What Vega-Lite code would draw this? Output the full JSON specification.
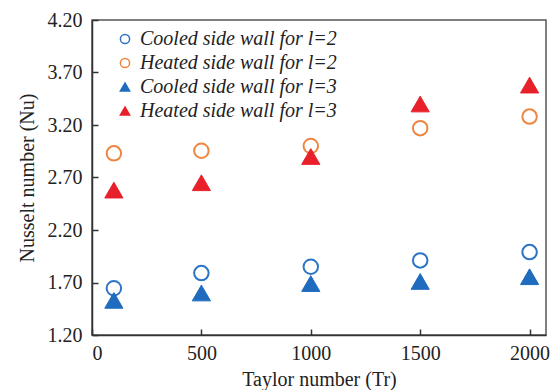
{
  "$schema": "https://vega.github.io/schema/vega-lite/v6.json",
  "autosize": "none",
  "width": 454,
  "height": 315,
  "padding": {"left": 92, "top": 20, "right": 4, "bottom": 55},
  "background": "white",
  "config": {
    "view": {"stroke": "#555555", "strokeWidth": 1.5},
    "font": "Liberation Serif",
    "axis": {
      "domainColor": "#333333",
      "domainWidth": 1.5,
      "tickColor": "#333333",
      "tickWidth": 1.5,
      "tickSize": -6,
      "grid": false,
      "labelFont": "Liberation Serif",
      "labelFontSize": 20,
      "labelColor": "#222222",
      "titleFont": "Liberation Serif",
      "titleFontSize": 20,
      "titleFontWeight": "normal",
      "titleColor": "#222222"
    }
  },
  "data": {
    "values": [
      {"series": "Cooled side wall for l=2", "Tr": 100, "Nu": 1.645},
      {"series": "Cooled side wall for l=2", "Tr": 500, "Nu": 1.79},
      {"series": "Cooled side wall for l=2", "Tr": 1000, "Nu": 1.85},
      {"series": "Cooled side wall for l=2", "Tr": 1500, "Nu": 1.91},
      {"series": "Cooled side wall for l=2", "Tr": 2000, "Nu": 1.99},
      {"series": "Heated side wall for l=2", "Tr": 100, "Nu": 2.93},
      {"series": "Heated side wall for l=2", "Tr": 500, "Nu": 2.955},
      {"series": "Heated side wall for l=2", "Tr": 1000, "Nu": 3.0},
      {"series": "Heated side wall for l=2", "Tr": 1500, "Nu": 3.17},
      {"series": "Heated side wall for l=2", "Tr": 2000, "Nu": 3.28},
      {"series": "Cooled side wall for l=3", "Tr": 100, "Nu": 1.53},
      {"series": "Cooled side wall for l=3", "Tr": 500, "Nu": 1.6},
      {"series": "Cooled side wall for l=3", "Tr": 1000, "Nu": 1.69},
      {"series": "Cooled side wall for l=3", "Tr": 1500, "Nu": 1.71},
      {"series": "Cooled side wall for l=3", "Tr": 2000, "Nu": 1.755},
      {"series": "Heated side wall for l=3", "Tr": 100, "Nu": 2.58},
      {"series": "Heated side wall for l=3", "Tr": 500, "Nu": 2.65},
      {"series": "Heated side wall for l=3", "Tr": 1000, "Nu": 2.9},
      {"series": "Heated side wall for l=3", "Tr": 1500, "Nu": 3.4},
      {"series": "Heated side wall for l=3", "Tr": 2000, "Nu": 3.58}
    ]
  },
  "encoding": {
    "x": {
      "field": "Tr", "type": "quantitative",
      "scale": {"domain": [0, 2075], "nice": false, "zero": false},
      "axis": {"values": [0, 500, 1000, 1500, 2000], "format": "d", "title": "Taylor number (Tr)", "labelPadding": 14, "titlePadding": 6}
    },
    "y": {
      "field": "Nu", "type": "quantitative",
      "scale": {"domain": [1.2, 4.2], "nice": false, "zero": false},
      "axis": {"values": [1.2, 1.7, 2.2, 2.7, 3.2, 3.7, 4.2], "format": ".2f", "title": "Nusselt number (Nu)", "labelPadding": 16, "titlePadding": 10}
    },
    "shape": {
      "field": "series", "type": "nominal",
      "scale": {
        "domain": ["Cooled side wall for l=2", "Heated side wall for l=2", "Cooled side wall for l=3", "Heated side wall for l=3"],
        "range": ["circle", "circle", "triangle-up", "triangle-up"]
      },
      "legend": {
        "orient": "none", "legendX": 23, "legendY": 9, "title": null,
        "labelFont": "Liberation Serif", "labelFontStyle": "italic", "labelFontSize": 20, "labelColor": "#222222", "labelLimit": 400,
        "symbolSize": 85, "symbolStrokeWidth": 1.5, "rowPadding": 4, "padding": 0, "labelOffset": 5
      }
    },
    "stroke": {
      "field": "series", "type": "nominal",
      "scale": {
        "domain": ["Cooled side wall for l=2", "Heated side wall for l=2", "Cooled side wall for l=3", "Heated side wall for l=3"],
        "range": ["#2e74c4", "#ee8540", "#1f6bbd", "#e8202a"]
      }
    },
    "fill": {
      "field": "series", "type": "nominal",
      "scale": {
        "domain": ["Cooled side wall for l=2", "Heated side wall for l=2", "Cooled side wall for l=3", "Heated side wall for l=3"],
        "range": ["transparent", "transparent", "#1f6bbd", "#e8202a"]
      }
    }
  },
  "layer": [
    {
      "transform": [{"filter": {"field": "series", "oneOf": ["Cooled side wall for l=2", "Heated side wall for l=2"]}}],
      "mark": {"type": "point", "size": 210, "strokeWidth": 2, "opacity": 1}
    },
    {
      "transform": [{"filter": {"field": "series", "oneOf": ["Cooled side wall for l=3", "Heated side wall for l=3"]}}],
      "mark": {"type": "point", "size": 330, "strokeWidth": 1, "opacity": 1}
    }
  ]
}
